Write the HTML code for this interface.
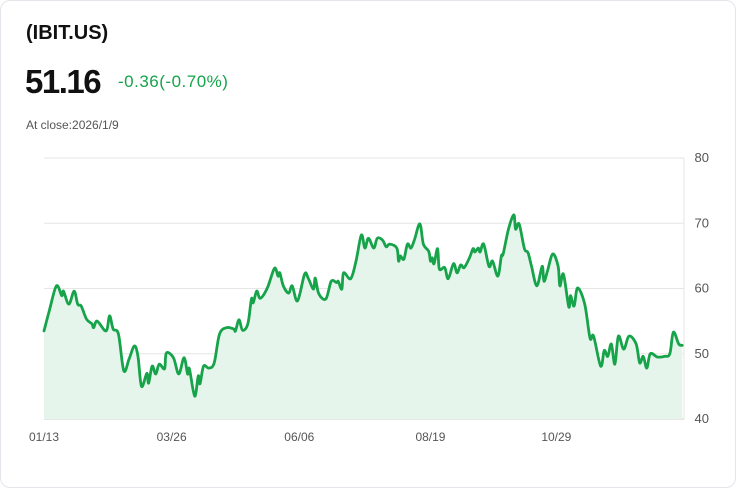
<!DOCTYPE html>
<html><head><meta charset="utf-8"><style>
body{margin:0;background:#fff;font-family:"Liberation Sans",sans-serif;}
#card{position:absolute;left:0;top:0;width:734px;height:486px;border:1px solid #e3e6ea;border-radius:10px;background:#fff;}
.t{position:absolute;white-space:nowrap;}
</style></head><body>
<div id="card">
<div class="t" style="left:25px;top:21px;font-size:20px;font-weight:bold;color:#111">(IBIT.US)</div>
<div class="t" style="left:24px;top:62px;font-size:33px;font-weight:bold;color:#111;letter-spacing:-1.5px">51.16</div>
<div class="t" style="left:117px;top:71px;font-size:17px;color:#16a34a;letter-spacing:0.5px">-0.36(-0.70%)</div>
<div class="t" style="left:25px;top:117px;font-size:12px;color:#555">At close:2026/1/9</div>
<svg id="chart" width="736" height="488" style="position:absolute;left:-1px;top:-1px"></svg>
</div>
<script>
const days=[0,3,7,10,11,14,17,19,21,24,27,28,30,35,37,39,42,45,48,51,53,55,58,59,61,63,65,68,69,73,76,79,81,82,85,87,88,90,93,96,99,103,107,108,110,112,115,117,118,120,122,126,130,132,133,135,138,140,143,147,149,152,153,155,159,162,165,166,168,169,173,176,179,181,183,186,188,191,193,195,199,200,201,203,205,207,209,212,214,217,218,219,220,222,223,226,228,231,233,235,237,240,242,243,245,246,248,251,253,256,258,259,262,265,266,268,271,273,275,278,281,282,284,287,290,291,293,296,297,299,301,305,308,310,314,316,318,320,322,324,327,330,334,336,338,340,342,346,350,353,355,358,360];
const prices=[53.5,56.6,60.4,58.9,59.6,57.6,59.6,57.6,57.3,55.3,54.6,54,55,53.5,55.8,53.8,53,47.4,49.2,51.2,49.6,45,47,45.5,48.1,46.9,48.4,47.7,50.1,49.4,46.9,49.4,46.9,47.7,43.5,46.6,45.4,48.1,47.8,48.6,53,54,53.8,53.5,55.2,53.6,54.6,58.4,57.8,59.6,58.5,60.1,63.1,61.9,62.4,60.4,59.3,60.4,58.1,62.2,61.6,59.9,61.6,59.2,58.4,61.1,60.9,61.1,59.9,62.4,61.5,64.2,68.2,66.2,67.7,66.2,67.7,67.4,66.4,66.8,66.2,64.2,65,64.5,66.8,66.2,67.5,69.9,66.8,65.7,64.2,64.7,63.8,66.1,63,63.2,61.5,63.8,62.4,63.6,63.2,64.7,66.1,65.6,66.2,65.6,66.8,63.4,64.2,61.9,65,65.3,69.1,71.3,69.1,69.9,66.1,65.5,63.4,60.4,63.4,61.1,62.7,65.3,63.4,60.4,62.2,57.2,58.9,57.3,60.1,57.6,52.4,52.7,48.1,50.5,49.6,51.5,48.4,52.7,50.7,52.7,51.5,48.6,49.6,47.8,50,49.5,49.6,50,53.3,51.5,51.3];
const yTicks=[40,50,60,70,80];
const xTickDays=[0,72,144,218,289];
const xTickLabels=["01/13","03/26","06/06","08/19","10/29"];
const NS="http://www.w3.org/2000/svg",svg=document.getElementById('chart');
const X0=44,X1=684,Y0=419,Y1=158,DMAX=361,VMIN=40,VMAX=80;
const xs=d=>X0+(X1-X0)*d/DMAX, ys=v=>Y0-(Y0-Y1)*(v-VMIN)/(VMAX-VMIN);
function mk(t,a){const e=document.createElementNS(NS,t);for(const k in a)e.setAttribute(k,a[k]);svg.appendChild(e);return e;}
yTicks.forEach(v=>{
 const l=mk('line',{x1:X0,x2:X1,y1:ys(v),y2:ys(v),stroke:v===40?'#ccc':'#e6e6e6','stroke-width':1});
 
 
 const t=mk('text',{x:709,y:ys(v)+4,'font-size':13,fill:'#555','text-anchor':'end','font-family':'Liberation Sans, sans-serif'});
 t.textContent=v;
 
 
});
const vl=mk('line',{x1:X1,x2:X1,y1:Y1,y2:Y0,stroke:'#e6e6e6'});


xTickDays.forEach((d,i)=>{
 const t=mk('text',{x:xs(d),y:441,'font-size':12,fill:'#555','text-anchor':'middle','font-family':'Liberation Sans, sans-serif'});
 t.textContent=xTickLabels[i];
 
 
});
const pts=days.map((d,i)=>[xs(d),ys(prices[i])]);
let p='M'+pts[0][0]+','+pts[0][1];
for(let i=0;i<pts.length-1;i++){
 const a=pts[i-1]||pts[i],b=pts[i],c=pts[i+1],e=pts[i+2]||c;
 p+=` C${b[0]+(c[0]-a[0])/6},${b[1]+(c[1]-a[1])/6} ${c[0]-(e[0]-b[0])/6},${c[1]-(e[1]-b[1])/6} ${c[0]},${c[1]}`;
}
const area=mk('path',{d:p+` L${pts[pts.length-1][0]},${Y0} L${pts[0][0]},${Y0} Z`,fill:'#e6f5ec'});


const line=mk('path',{d:p,fill:'none',stroke:'#16a34a','stroke-width':2.8,'stroke-linejoin':'round','stroke-linecap':'round'});


</script>
</body></html>
